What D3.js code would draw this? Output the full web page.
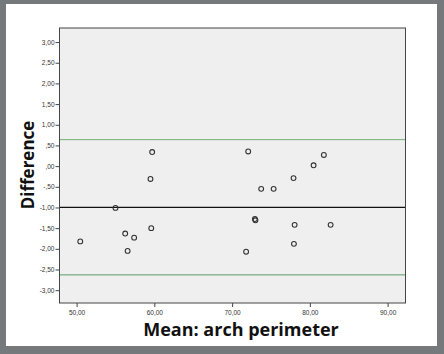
<!DOCTYPE html>
<html><head><meta charset="utf-8">
<script src="https://cdn.jsdelivr.net/npm/d3@7"></script>
<style>
html,body{margin:0;padding:0;background:#76797b;}
svg{display:block;}
</style></head>
<body>
<svg id="chart" width="444" height="354"></svg>
<script>
// Data (Bland-Altman: mean vs difference)
const meanValues = [59.72, 59.5, 55.0, 59.6, 56.25, 57.4, 50.47, 56.56, 72.07, 73.74, 75.34, 77.9, 80.48, 81.8, 72.93, 73.0, 78.04, 82.67, 77.95, 71.8];
const diffValues = [0.34, -0.31, -1.01, -1.50, -1.63, -1.73, -1.82, -2.05, 0.355, -0.55, -0.55, -0.29, 0.02, 0.27, -1.28, -1.31, -1.42, -1.42, -1.88, -2.07];
const meanDiff = -1.0;
const upperLoA = 0.64;
const lowerLoA = -2.63;
const xTicks = [50, 60, 70, 80, 90];
const yTicks = [3, 2.5, 2, 1.5, 1, 0.5, 0, -0.5, -1, -1.5, -2, -2.5, -3];
const xLabel = "Mean: arch perimeter";
const yLabel = "Difference";

const svg = d3.select("#chart");
// white panel
svg.append("rect").attr("x", 6).attr("y", 4).attr("width", 431).attr("height", 342).attr("fill", "#fff");

const L = 59.5, R = 405.5, T = 28, B = 303;
const x = d3.scaleLinear().domain([47.8, 92.3]).range([L, R]);
const y = d3.scaleLinear().domain([-3.31, 3.34]).range([B, T]);

function fmt(v) {
  let s = Math.abs(v).toFixed(2).replace(".", ",");
  if (Math.abs(v) < 1) s = s.replace(/^0/, "");
  return (v < 0 ? "-" : "") + s;
}

svg.append("rect").attr("x", L).attr("y", T).attr("width", R - L).attr("height", B - T)
  .attr("fill", "#efefef");

// reference lines
const g = svg.append("g");
g.append("line").attr("x1", L).attr("x2", R).attr("y1", y(upperLoA)).attr("y2", y(upperLoA))
  .attr("stroke", "#72b072").attr("stroke-width", 1);
g.append("line").attr("x1", L).attr("x2", R).attr("y1", y(lowerLoA)).attr("y2", y(lowerLoA))
  .attr("stroke", "#5f9a68").attr("stroke-width", 1);
g.append("line").attr("x1", L).attr("x2", R).attr("y1", y(meanDiff)).attr("y2", y(meanDiff))
  .attr("stroke", "#111").attr("stroke-width", 1.3);

// points
svg.append("g").selectAll("circle").data(meanValues.map((m, i) => [m, diffValues[i]]))
  .join("circle")
  .attr("cx", d => x(d[0])).attr("cy", d => y(d[1])).attr("r", 2.4)
  .attr("fill", "none").attr("stroke", "#333").attr("stroke-width", 1.1);

// axes
const yAxis = d3.axisLeft(y).tickValues(yTicks).tickFormat(fmt).tickSize(4).tickPadding(1);
const yg = svg.append("g").attr("transform", `translate(${L},0)`).call(yAxis);
const xAxis = d3.axisBottom(x).tickValues(xTicks).tickFormat(fmt).tickSize(4).tickPadding(3);
const xg = svg.append("g").attr("transform", `translate(0,${B})`).call(xAxis);
[yg, xg].forEach(a => {
  a.select(".domain").remove();
  a.selectAll("line").attr("stroke", "#444");
  a.selectAll("text").attr("font-family", "Liberation Sans, Arial, sans-serif")
    .attr("font-size", 6.5).attr("fill", "#333");
});

// border
svg.append("rect").attr("x", L).attr("y", T).attr("width", R - L).attr("height", B - T)
  .attr("fill", "none").attr("stroke", "#444").attr("stroke-width", 1);

// labels
svg.append("text").attr("x", 241).attr("y", 336).attr("text-anchor", "middle")
  .attr("font-family", "Open Sans, Noto Sans, sans-serif").attr("font-weight", "bold")
  .attr("font-size", 18).attr("fill", "#111").text(xLabel);
svg.append("text").attr("transform", "translate(34,165) rotate(-90)").attr("text-anchor", "middle")
  .attr("font-family", "Open Sans, Noto Sans, sans-serif").attr("font-weight", "bold")
  .attr("font-size", 17).attr("fill", "#111").text(yLabel);
</script>
</body></html>
